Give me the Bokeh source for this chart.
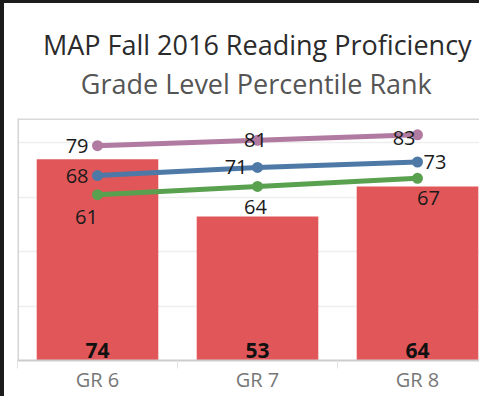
from bokeh.plotting import figure
from bokeh.layouts import column
from bokeh.models import Range1d, FixedTicker, Span
from bokeh.embed import file_html
from bokeh.resources import INLINE
from bokeh.core.properties import value

# ---- data ----
grades = ["GR 6", "GR 7", "GR 8"]
bar_values = [74, 53, 64]
pink_values = [79, 81, 83]
blue_values = [68, 71, 73]
green_values = [61, 64, 67]
grid_ticks = [20, 40, 60, 80]
y_max = 89
title_text = "MAP Fall 2016 Reading Proficiency"
subtitle_text = "Grade Level Percentile Rank"

# ---- styles ----
FONT = "Open Sans"
BAR_COLOR = "#E15759"
series = [
    dict(vals=pink_values, color="#B07AA1",
         align=["right", "center", "right"], dx=[-9, -2, -2], dy=[0, 0, 3]),
    dict(vals=blue_values, color="#4E79A7",
         align=["right", "right", "left"], dx=[-9, -10, 6], dy=[0, 0, 0]),
    dict(vals=green_values, color="#59A14F",
         align=["center", "center", "center"], dx=[-11, -2, 11], dy=[22, 21, 20]),
]

W = 475
TITLE_H = 115
H = 393 - TITLE_H
LEFT, BOTTOM = 13, 36
CAT_PX = 160
xs = list(range(len(grades)))

# ---- title strip ----
tf = figure(width=W, height=TITLE_H, output_backend="svg", toolbar_location=None,
            x_range=Range1d(0, W), y_range=Range1d(0, TITLE_H), min_border=0)
tf.axis.visible = False
tf.grid.visible = False
tf.outline_line_color = None
tf.text(x=[W / 2 + 9], y=[TITLE_H - 41], text=[title_text], text_align="center",
        text_baseline="alphabetic", text_font=value(FONT), text_font_size="27px",
        text_color="#2b2b2b")
tf.text(x=[W / 2 + 8], y=[TITLE_H - 80], text=[subtitle_text], text_align="center",
        text_baseline="alphabetic", text_font=value(FONT), text_font_size="27px",
        text_color="#555555")

# ---- chart ----
p = figure(width=W, height=H, output_backend="svg", toolbar_location=None,
           x_range=Range1d(-0.5, -0.5 + (W - LEFT) / CAT_PX),
           y_range=Range1d(0, y_max),
           min_border_left=LEFT, min_border_right=0,
           min_border_top=0, min_border_bottom=BOTTOM)

p.outline_line_color = None
p.background_fill_color = "white"
p.border_fill_color = "white"

p.xgrid.visible = False
p.yaxis.visible = False
p.ygrid.ticker = FixedTicker(ticks=grid_ticks)
p.ygrid.grid_line_color = "#eeeeee"
p.ygrid.grid_line_width = 1.5

p.add_layout(Span(location=-0.5, dimension="height", line_color="#d4d4d4", line_width=3))
p.add_layout(Span(location=y_max, dimension="width", line_color="#d9d9d9", line_width=3))

p.xaxis.ticker = FixedTicker(ticks=xs, minor_ticks=[-0.5, 0.5, 1.5])
p.xaxis.major_label_overrides = {i: g for i, g in zip(xs, grades)}
p.xaxis.major_tick_line_color = None
p.xaxis.major_tick_out = 0
p.xaxis.major_tick_in = 0
p.xaxis.minor_tick_in = 0
p.xaxis.minor_tick_out = 8
p.xaxis.minor_tick_line_color = "#e2e2e2"
p.xaxis.axis_line_color = "#cccccc"
p.xaxis.axis_line_width = 2
p.xaxis.major_label_text_font = FONT
p.xaxis.major_label_text_font_size = "20px"
p.xaxis.major_label_text_color = "#777777"
p.xaxis.major_label_standoff = -3

# bars
p.vbar(x=xs, top=bar_values, width=0.76, fill_color=BAR_COLOR, line_color=None)
p.text(x=xs, y=[0] * len(xs), text=[str(v) for v in bar_values],
       text_align="center", text_baseline="alphabetic", y_offset=-10,
       text_font=value(FONT), text_font_size="21px", text_font_style="bold",
       text_color="#111111")

# lines
for s in series:
    p.line(xs, s["vals"], line_color=s["color"], line_width=5)
    p.scatter(xs, s["vals"], size=11, fill_color=s["color"], line_color=None)
for s in series:
    for i, v in enumerate(s["vals"]):
        p.text(x=[xs[i]], y=[v], text=[str(v)], text_align=s["align"][i],
               text_baseline="middle", x_offset=s["dx"][i], y_offset=s["dy"][i],
               text_font=value(FONT), text_font_size="20px",
               text_color="#1a1a1a")

layout = column(tf, p, spacing=0,
                styles={"border-left": "4px solid #1c1c1c", "border-top": "3px solid #1c1c1c"})

open("out.html", "w").write(file_html(layout, INLINE))
